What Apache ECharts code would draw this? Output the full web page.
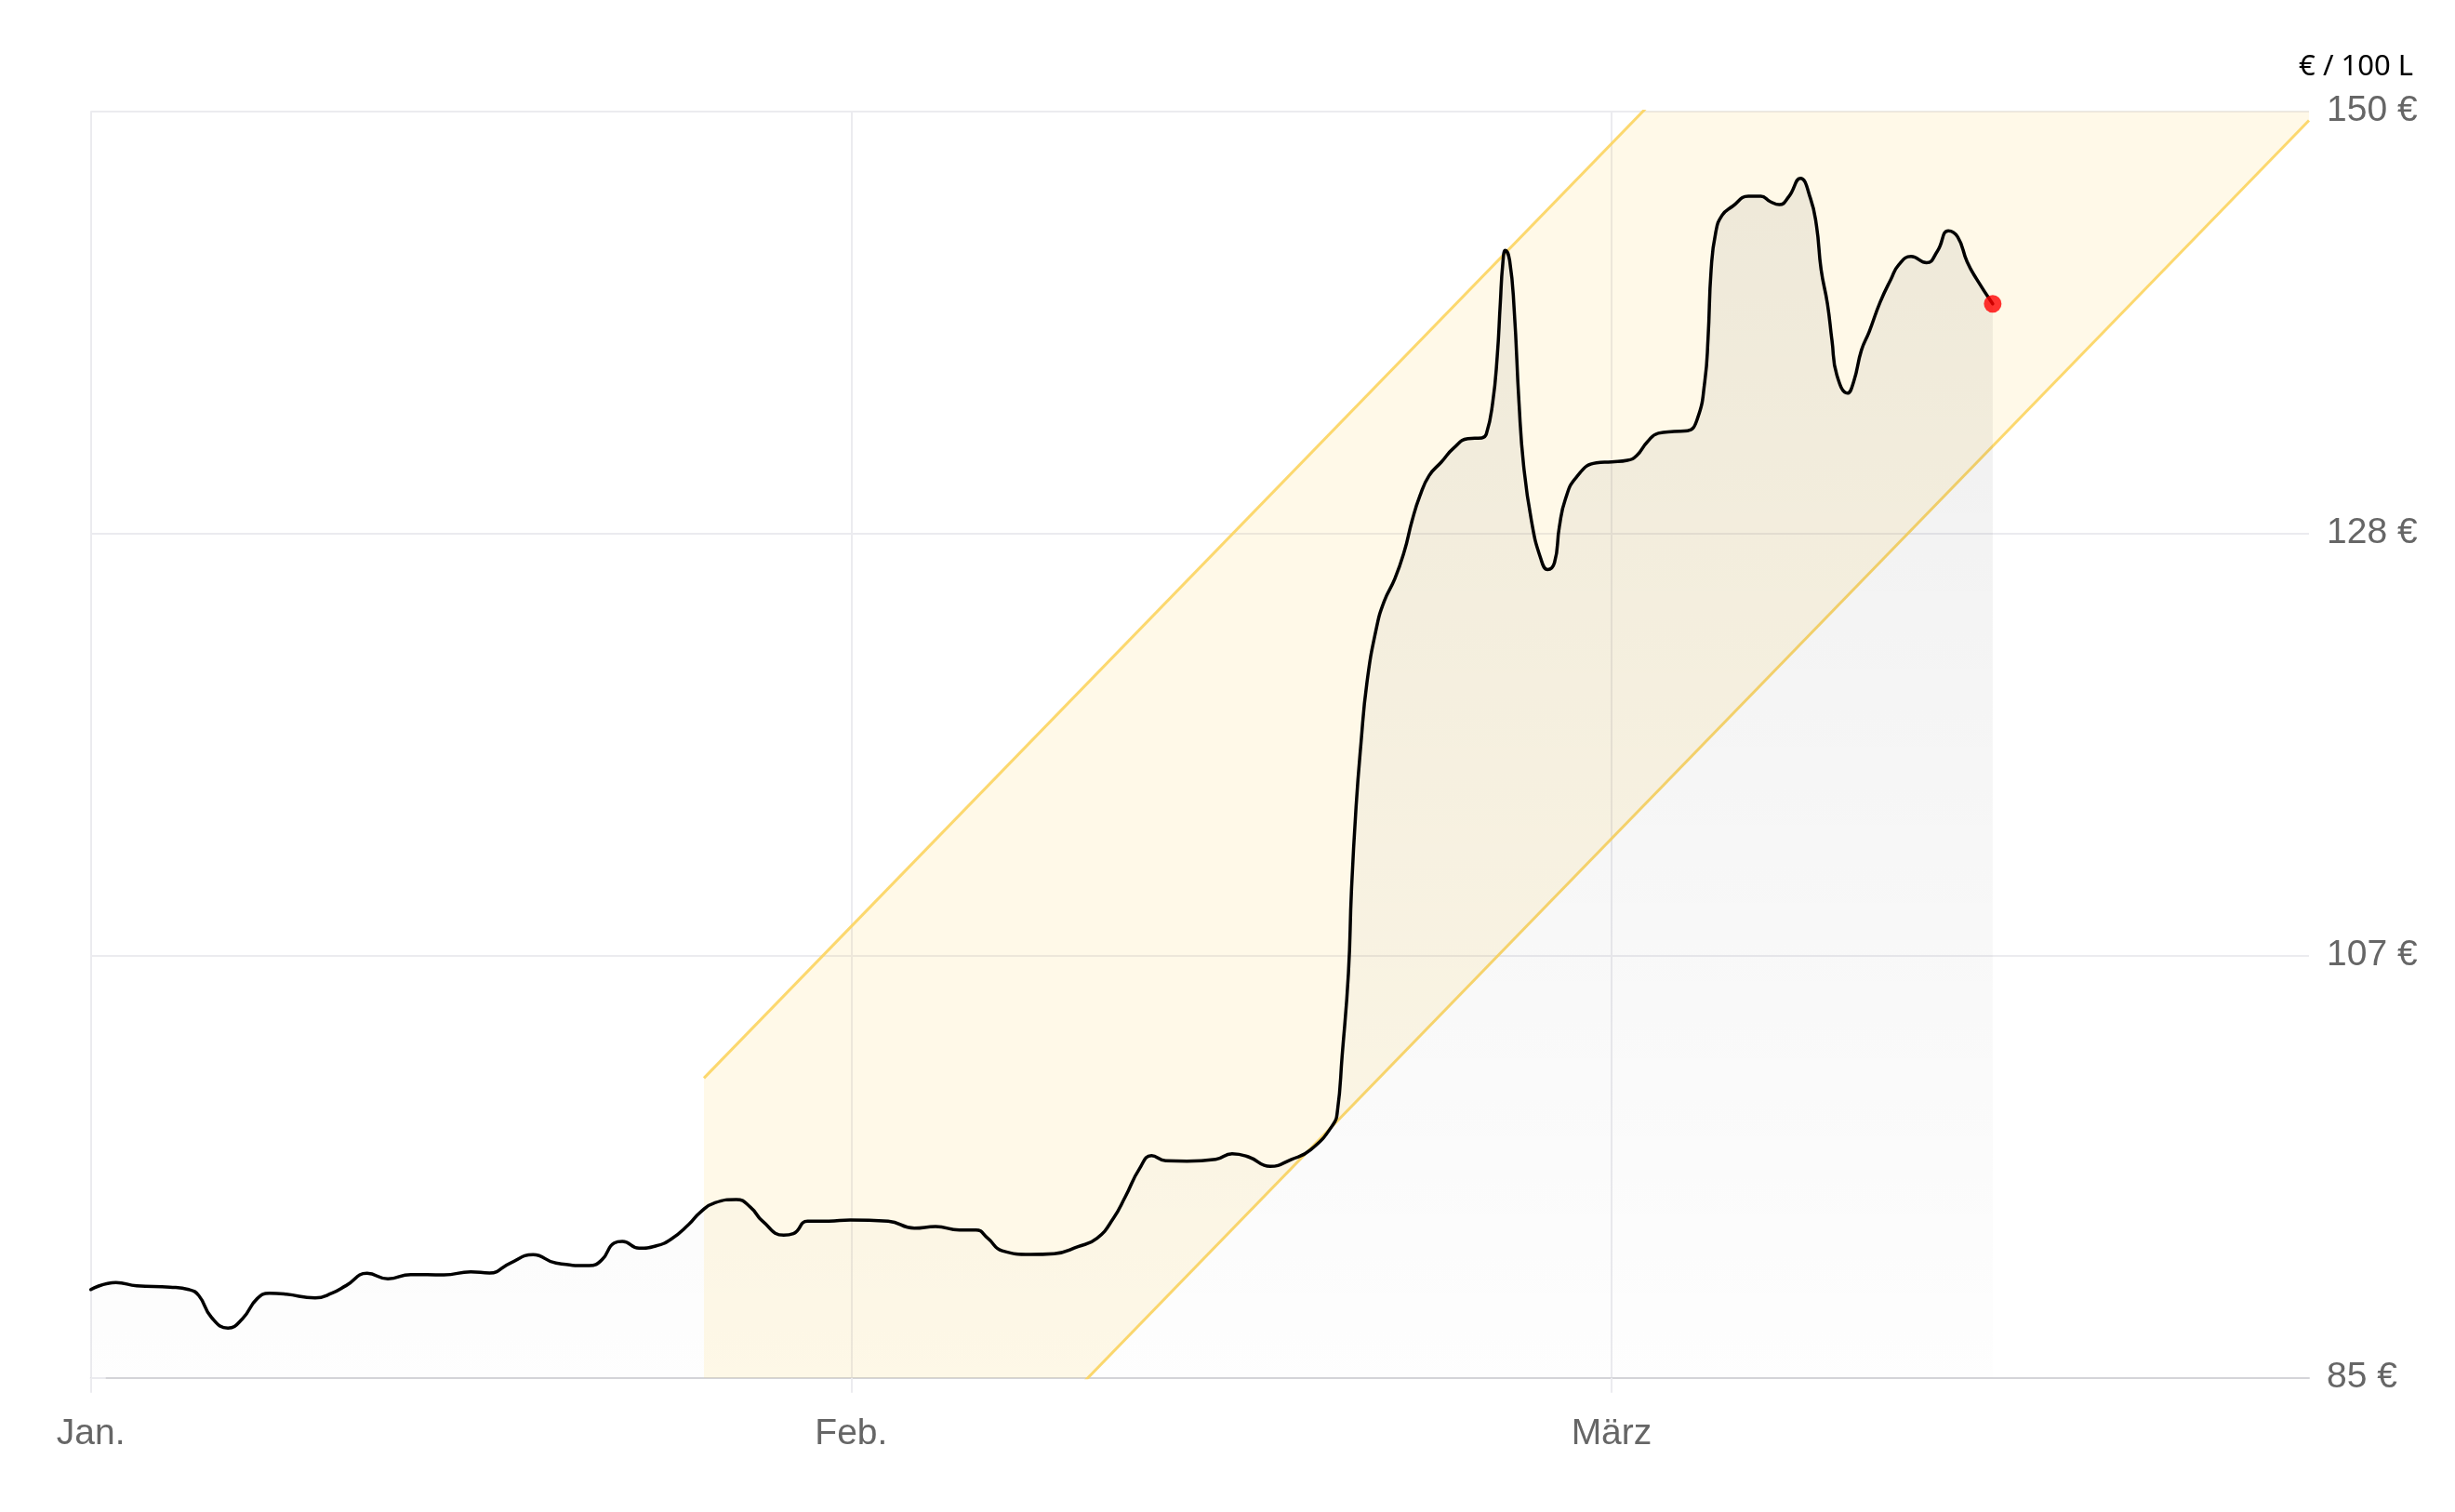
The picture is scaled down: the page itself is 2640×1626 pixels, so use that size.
<!DOCTYPE html>
<html><head><meta charset="utf-8">
<script src="https://cdn.jsdelivr.net/npm/echarts@6/dist/echarts.min.js"></script>
<style>html,body{margin:0;padding:0;background:#fff}#c{width:2640px;height:1626px}</style>
</head><body><div id="c"></div>
<script>
// x in days (30 per month step on the axis), y in € per 100 L
const days = [0, 0.99, 1.81, 3.12, 3.86, 4.26, 4.76, 5.41, 5.98, 6.56, 7.05, 7.71, 8.85, 9.51, 10.08, 10.9, 11.72, 12.62, 13.93, 14.99, 15.73, 16.55, 17.45, 18.35, 19.66, 20.16, 20.65, 20.97, 21.63, 22.28, 22.9, 23.59, 24.05, 24.63, 25.47, 26.03, 26.5, 27.34, 27.72, 28.28, 29.12, 29.96, 31.46, 32.49, 33.33, 34.27, 34.92, 35.39, 35.96, 37.08, 38.01, 38.95, 39.7, 40.35, 40.82, 41.38, 41.85, 42.41, 43.25, 44.38, 45.03, 45.69, 46.53, 47.37, 48.12, 49.01, 49.19, 49.37, 49.62, 49.74, 49.92, 50.11, 50.35, 50.72, 51.03, 51.45, 51.82, 52.13, 52.44, 52.8, 53.29, 53.78, 54.33, 54.88, 55.06, 55.31, 55.49, 55.61, 55.71, 55.81, 55.98, 56.16, 56.35, 56.53, 56.84, 57.2, 57.48, 57.75, 57.94, 58.18, 58.61, 59.4, 60.01, 60.63, 60.99, 61.42, 61.85, 62.46, 63.0, 63.39, 63.68, 63.81, 63.93, 64.11, 64.36, 64.78, 65.4, 65.89, 66.26, 66.62, 66.99, 67.45, 67.85, 68.09, 68.27, 68.52, 68.7, 68.89, 69.31, 69.56, 69.86, 70.17, 70.6, 71.03, 71.33, 71.82, 72.43, 72.86, 73.29, 73.66, 74.03, 74.4, 75.04];
const prices = [89.53, 89.89, 89.72, 89.65, 89.53, 89.22, 88.1, 87.55, 88.03, 89.06, 89.34, 89.29, 89.1, 89.34, 89.74, 90.36, 90.08, 90.3, 90.28, 90.44, 90.38, 90.89, 91.32, 90.89, 90.76, 91.05, 91.92, 92.0, 91.65, 91.76, 92.12, 92.87, 93.5, 93.99, 94.15, 93.75, 93.04, 92.32, 92.4, 93.04, 93.04, 93.1, 93.04, 92.68, 92.76, 92.59, 92.59, 92.16, 91.52, 91.33, 91.37, 91.73, 92.16, 93.19, 94.3, 95.74, 96.4, 96.14, 96.12, 96.21, 96.5, 96.33, 95.85, 96.21, 96.69, 97.99, 98.74, 101.5, 105.77, 110.03, 114.29, 117.49, 120.68, 123.45, 124.85, 126.0, 127.39, 128.98, 130.26, 131.29, 132.0, 132.72, 133.19, 133.23, 133.43, 135.03, 137.41, 140.11, 142.18, 142.85, 142.34, 139.8, 135.03, 131.84, 128.98, 127.07, 126.47, 126.83, 128.66, 130.09, 131.21, 131.95, 132.0, 132.08, 132.32, 133.04, 133.47, 133.56, 133.6, 134.22, 136.13, 138.36, 141.86, 143.77, 144.65, 145.12, 145.63, 145.63, 145.36, 145.2, 145.6, 146.55, 145.52, 144.09, 141.86, 140.11, 138.21, 136.46, 135.53, 136.14, 137.73, 138.69, 140.2, 141.39, 142.11, 142.54, 142.22, 142.82, 143.86, 143.54, 142.27, 141.39, 140.11];

const xTickDays = [0, 30, 60];
const xTickLabels = ['Jan.', 'Feb.', 'März'];
const yTicks = [85, 85 + 65 / 3, 85 + 130 / 3, 150];
const yTickLabels = ['85 €', '107 €', '128 €', '150 €'];
const unitLabel = '€ / 100 L';

// trend channel corners
const bandDays = [24.19, 87.52];
const bandLower = [64.71, 149.52];
const bandUpper = [100.38, 185.18];

const xMin = 0, xMax = 87.52, yMin = 85, yMax = 150;

const chart = echarts.init(document.getElementById('c'), null, {renderer: 'canvas'});
const gridColor = '#ebebef';
const labelFont = 'Liberation Sans, Arial, sans-serif';

chart.setOption({
  animation: false,
  backgroundColor: '#fff',
  title: {
    text: unitLabel, right: 40, top: 52,
    textStyle: {fontSize: 31, fontWeight: 'normal', color: '#000', fontFamily: 'Noto Sans, sans-serif'}
  },
  grid: {left: 97.7, right: 157, top: 119.5, bottom: 144.3, containLabel: false, outerBoundsMode: 'none'},
  xAxis: {
    type: 'value', min: xMin, max: xMax,
    axisLine: {show: true, lineStyle: {color: '#d4d4d8', width: 2}},
    axisTick: {show: true, length: 16, customValues: xTickDays, lineStyle: {color: gridColor, width: 2}},
    splitLine: {show: true, lineStyle: {color: gridColor, width: 2}},
    axisLabel: {
      customValues: xTickDays, margin: 41, fontSize: 39, color: '#666', fontFamily: labelFont,
      formatter: v => xTickLabels[xTickDays.indexOf(v)] || ''
    }
  },
  yAxis: {
    type: 'value', position: 'right', min: yMin, max: yMax,
    axisLine: {show: false},
    axisTick: {show: true, length: 16, customValues: yTicks, lineStyle: {color: gridColor, width: 2}},
    splitLine: {show: true, lineStyle: {color: gridColor, width: 2}},
    axisLabel: {
      customValues: yTicks, margin: 19, fontSize: 39, color: '#666', fontFamily: labelFont,
      formatter: v => {
        let best = 0;
        yTicks.forEach((t, i) => { if (Math.abs(t - v) < Math.abs(yTicks[best] - v)) best = i; });
        return yTickLabels[best];
      }
    }
  },
  series: [
    {
      type: 'custom', clip: true, silent: true, z: 1,
      data: [0],
      renderItem: (params, api) => {
        const pts = [
          api.coord([bandDays[0], bandLower[0]]),
          api.coord([bandDays[1], bandLower[1]]),
          api.coord([bandDays[1], bandUpper[1]]),
          api.coord([bandDays[0], bandUpper[0]])
        ];
        return {type: 'polygon', shape: {points: pts}, style: {fill: 'rgba(255,214,90,0.14)'}};
      }
    },
    {
      type: 'line', silent: true, z: 2, symbol: 'none',
      data: bandDays.map((d, i) => [d, bandLower[i]]),
      lineStyle: {color: 'rgba(252,212,95,0.9)', width: 3}
    },
    {
      type: 'line', silent: true, z: 2, symbol: 'none',
      data: bandDays.map((d, i) => [d, bandUpper[i]]),
      lineStyle: {color: 'rgba(252,212,95,0.9)', width: 3}
    },
    {
      type: 'line', z: 3, symbol: 'none', smooth: 0.5,
      data: days.map((d, i) => [d, prices[i]]),
      lineStyle: {color: '#000', width: 3.5, join: 'round', cap: 'round'},
      areaStyle: {
        color: new echarts.graphic.LinearGradient(0, 0, 0, 1, [
          {offset: 0, color: 'rgba(0,0,0,0.095)'},
          {offset: 1, color: 'rgba(0,0,0,0.006)'}
        ])
      }
    },
    {
      type: 'scatter', z: 4, symbolSize: 19,
      data: [[days[days.length - 1], prices[prices.length - 1]]],
      itemStyle: {color: '#ff0000'}
    }
  ]
});
</script></body></html>
